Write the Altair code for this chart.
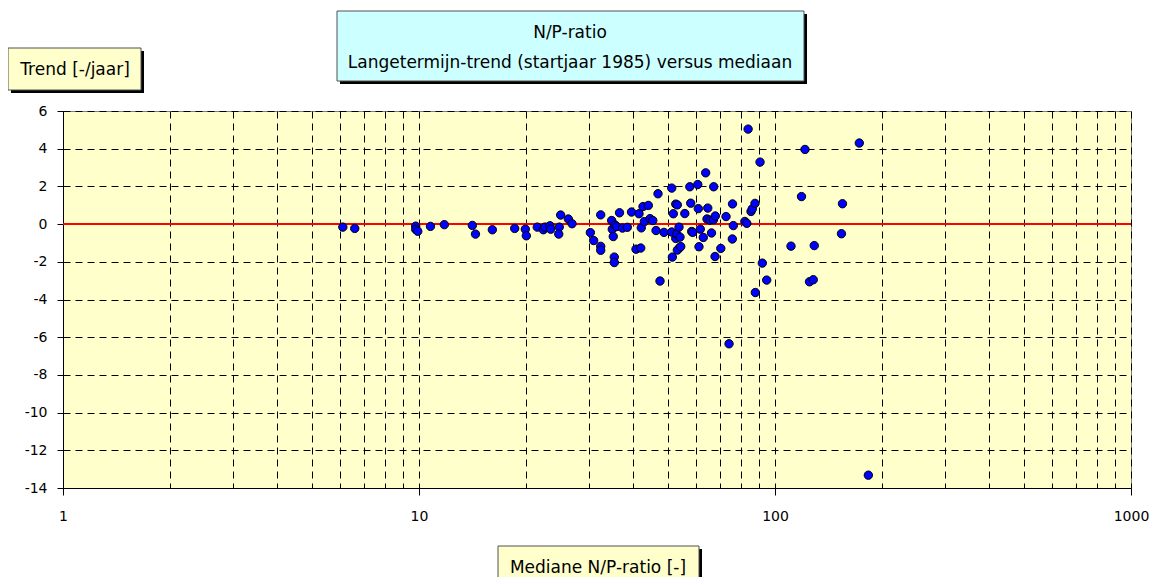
import altair as alt
import pandas as pd

# Mediane N/P-ratio [-] (x) and langetermijn-trend [-/jaar] (y)
median_np = [6.11, 6.60, 9.79, 9.79, 9.92, 10.77, 11.78, 14.12, 14.41, 16.07,
             18.57, 19.89, 20.02, 21.49, 22.35, 22.59, 23.33, 23.44, 24.78, 24.69,
             25.00, 26.27, 26.91, 30.29, 30.95, 32.39, 32.39, 32.39, 34.77, 34.91,
             35.13, 35.36, 35.36, 35.53, 35.92, 36.58, 37.29, 38.47, 39.53, 40.70,
             41.50, 41.96, 42.11, 42.58, 42.95, 44.07, 44.56, 45.37, 46.32, 46.92,
             47.53, 48.77, 51.28, 51.28, 51.48, 51.81, 52.63, 53.17, 52.63, 52.97,
             53.75, 54.10, 53.86, 53.17, 54.35, 55.80, 57.64, 57.98, 58.34, 58.72,
             60.69, 60.89, 61.16, 61.68, 62.89, 63.87, 64.74, 64.42, 65.68, 66.32,
             67.27, 67.18, 67.85, 67.97, 70.43, 72.85, 75.97, 76.37, 75.88, 82.28,
             83.34, 85.63, 86.35, 87.87, 90.77, 92.12, 94.77, 84.04, 74.28, 88.05,
             121.4, 172.5, 118.7, 154.7, 153.7, 110.9, 128.9, 125.0, 128.1, 182.9]

trend = [-0.16, -0.23, -0.11, -0.28, -0.38, -0.12, -0.03, -0.07, -0.53, -0.30,
         -0.23, -0.27, -0.62, -0.16, -0.30, -0.16, -0.09, -0.27, -0.16, -0.53,
         0.48, 0.27, 0.02, -0.45, -0.87, 0.49, -1.18, -1.39, 0.19, -0.27,
         -0.66, -1.75, -2.04, -0.05, -0.13, 0.60, -0.21, -0.17, 0.64, -1.33,
         0.55, -1.27, -0.20, 0.93, 0.13, 0.99, 0.29, 0.19, -0.34, 1.61,
         -3.02, -0.44, 1.91, -0.42, -1.75, 0.55, 1.06, 1.02, -0.76, -0.53,
         -0.16, -0.69, -1.27, -1.38, -1.19, 0.56, 1.98, 1.11, -0.39, -0.44,
         2.10, 0.82, -1.20, -0.27, -0.71, 2.72, 0.85, 0.27, 0.21, -0.47,
         1.98, 0.23, -1.72, 0.43, -1.29, 0.40, 1.07, -0.08, -0.79, 0.14,
         0.04, 0.67, 0.81, 1.10, 3.29, -2.07, -2.97, 5.04, -6.35, -3.63,
         3.96, 4.30, 1.46, 1.08, -0.51, -1.17, -1.14, -3.06, -2.95, -13.32]

x_grid_values = [1, 2, 3, 4, 5, 6, 7, 8, 9,
                 10, 20, 30, 40, 50, 60, 70, 80, 90,
                 100, 200, 300, 400, 500, 600, 700, 800, 900, 1000]
x_label_values = [1, 10, 100, 1000]
y_tick_values = [-14, -12, -10, -8, -6, -4, -2, 0, 2, 4, 6]
zero_line = [0]

title_line1 = "N/P-ratio"
title_line2 = "Langetermijn-trend (startjaar 1985) versus mediaan"
y_title = "Trend [-/jaar]"
x_title = "Mediane N/P-ratio [-]"

FONT = "DejaVu Sans"
W, H = 1068, 377

df = pd.DataFrame({"median": median_np, "trend": trend})
one = pd.DataFrame({"k": [0]})

x_scale = alt.Scale(type="log", domain=[1, 1000], nice=False)
y_scale = alt.Scale(domain=[-14, 6], nice=False, zero=False)

major_test = "indexof([" + ",".join(str(v) for v in x_label_values) + "], datum.value) >= 0"

x_axis = alt.Axis(
    values=x_grid_values, title=None, grid=True, gridColor="black", gridDash=[7, 5],
    gridWidth=1, gridOpacity=1, domainColor="black", domainWidth=1,
    tickColor="black", tickSize=7,
    tickOpacity={"condition": {"test": major_test, "value": 1}, "value": 0},
    labelExpr=f"{major_test} ? '' + datum.value : ''",
    labelOverlap=False, labelFlush=False, labelBound=False,
    labelFont=FONT, labelFontSize=14, labelColor="black", labelPadding=14,
)
y_axis = alt.Axis(
    values=y_tick_values, title=None, grid=True, gridColor="black", gridDash=[7, 5],
    gridWidth=1, gridOpacity=1, domainColor="black", domainWidth=1,
    tickColor="black", tickSize=6, labelFont=FONT, labelFontSize=14,
    labelExpr="'' + datum.value",
    labelColor="black", labelPadding=10, labelFlush=False, labelOverlap=False,
)

zero = alt.Chart(pd.DataFrame({"y": zero_line})).mark_rule(
    color="#FF0000", strokeWidth=2
).encode(y=alt.Y("y:Q", scale=y_scale, axis=y_axis))

points = alt.Chart(df).mark_circle(
    size=70, color="#0000FF", opacity=1, stroke="black", strokeWidth=1
).encode(
    x=alt.X("median:Q", scale=x_scale, axis=x_axis),
    y=alt.Y("trend:Q", scale=y_scale, axis=y_axis),
)


def box(x1, x2, y1, y2, fill):
    shadow = alt.Chart(one).mark_rect(color="black").encode(
        x=alt.value(x1 + 3), x2=alt.value(x2 + 3),
        y=alt.value(y1 + 3), y2=alt.value(y2 + 3))
    face = alt.Chart(one).mark_rect(fill=fill, stroke="#505050", strokeWidth=1).encode(
        x=alt.value(x1), x2=alt.value(x2), y=alt.value(y1), y2=alt.value(y2))
    return [shadow, face]


def label(txt, x, y, size):
    return alt.Chart(one).mark_text(
        text=txt, font=FONT, fontSize=size, color="black", align="center", baseline="middle"
    ).encode(x=alt.value(x), y=alt.value(y))


layers = [zero, points]
layers += box(274, 741, -100, -30, "#CCFFFF")
layers += [label(title_line1, 507, -78, 17), label(title_line2, 507, -48, 17)]
layers += box(-55, 78, -63, -21, "#FFFFCC")
layers += [label(y_title, 12, -41, 17)]
layers += box(435, 636, 435, 500, "#FFFFCC")
layers += [label(x_title, 535, 457, 17)]

chart = alt.layer(*layers).properties(
    width=W, height=H,
    autosize=alt.AutoSizeParams(type="none"),
    padding={"left": 55, "top": 103, "right": 18, "bottom": 89},
    background="white",
).configure_view(fill="#FFFFCC", stroke="#808080", strokeWidth=1)

chart.save("out.html", embed_options={"renderer": "svg", "actions": False})
